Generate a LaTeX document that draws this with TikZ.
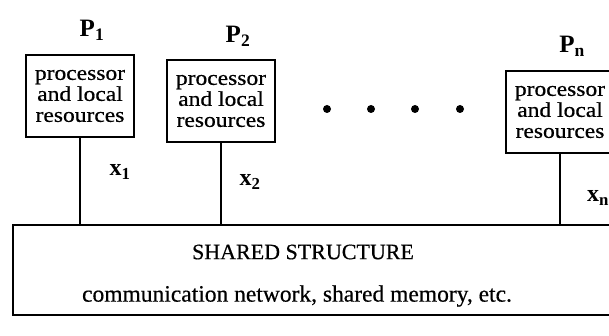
\documentclass[tikz,border=0pt]{standalone}
\usepackage{fontspec}
\setmainfont{Liberation Serif}
\newfontfamily\boxfont{Liberation Serif}[FakeStretch=1.12,FakeBold=0.6]
\newfontfamily\heavyfont{Liberation Serif}[FakeBold=0.5]
\begin{document}
\begin{tikzpicture}[x=1pt,y=-1pt,
  procbox/.style={draw,line width=1.8pt,minimum width=108pt,minimum height=82pt,
    inner sep=0pt,align=center,font=\boxfont\fontsize{21}{21}\selectfont},
  plabel/.style={font=\fontsize{25}{25}\selectfont\bfseries},
  xlabel/.style={font=\fontsize{24}{24}\selectfont\bfseries},
  link/.style={line width=1.4pt},
  dotmark/.style={circle,fill,inner sep=0pt,minimum size=8pt}]
\useasboundingbox (0,0) rectangle (609,336);
\node[procbox] (b1) at (80,96) {processor\\and local\\resources};
\node[procbox] (b2) at (221,101) {processor\\and local\\resources};
\node[procbox] (bn) at (560,112) {processor\\and local\\resources};
\node[plabel] (p1) at (92,30) {P$_{\mathbf 1}$};
\node[plabel] (p2) at (238,36) {P$_{\mathbf 2}$};
\node[plabel] (pn) at (572,46) {P$_{\mathbf n}$};
\node[draw,line width=1.8pt,minimum width=614pt,minimum height=90pt,inner sep=0pt] (ss) at (320,270) {};
\node[font=\heavyfont\fontsize{22}{22}\selectfont] (t1) at (303,252) {SHARED STRUCTURE};
\node[font=\heavyfont\fontsize{23.5}{23.5}\selectfont] (t2) at (297,296) {communication network, shared memory, etc.};
\coordinate (c1) at (b1.south |- ss.north);
\coordinate (c2) at (b2.south |- ss.north);
\coordinate (cn) at (bn.south |- ss.north);
\draw[link] (b1.south) -- (c1);
\draw[link] (b2.south) -- (c2);
\draw[link] (bn.south) -- (cn);
\node[xlabel] (x1) at (120,172) {x$_{\mathbf 1}$};
\node[xlabel] (x2) at (250,182) {x$_{\mathbf 2}$};
\node[xlabel] (xn) at (598,198) {x$_{\mathbf n}$};
\node[dotmark] (d1) at (327,109) {};
\node[dotmark] (d2) at (371,109) {};
\node[dotmark] (d3) at (415,109) {};
\node[dotmark] (d4) at (460,109) {};
\end{tikzpicture}
\end{document}
